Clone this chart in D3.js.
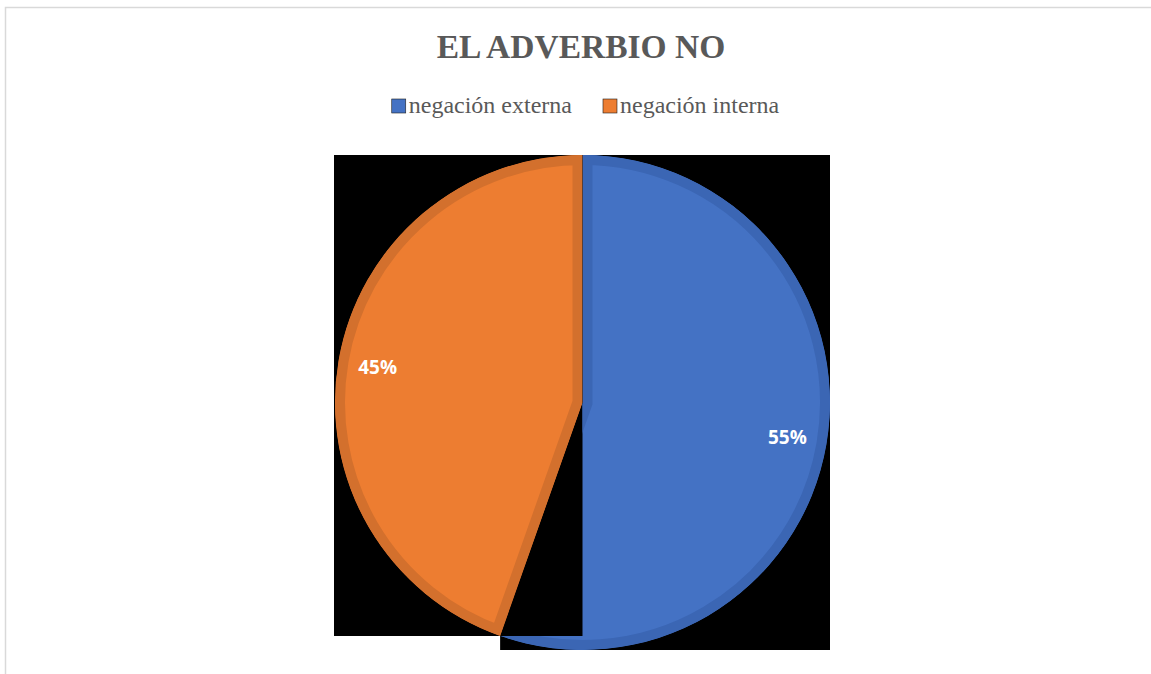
<!DOCTYPE html>
<html>
<head>
<meta charset="utf-8">
<script src="https://cdn.jsdelivr.net/npm/d3@7"></script>
<style>
  body { margin: 0; background: #fff; }
</style>
</head>
<body>
<div id="chart"></div>
<script>
// data
const categories = ['negación externa', 'negación interna'];
const shares = [55.4, 44.6];
const chartTitle = 'EL ADVERBIO NO';

class NegationPie {
  constructor(_config, _data) {
    this.config = {
      parentElement: _config.parentElement,
      containerWidth: _config.containerWidth || 1151,
      containerHeight: _config.containerHeight || 674,
      cx: _config.cx || 582.5,
      cy: _config.cy || 402.5,
      radius: _config.radius || 247.5
    };
    this.data = _data;
    this.initVis();
  }

  initVis() {
    let vis = this;
    const c = vis.config;

    vis.svg = d3.select(c.parentElement).append('svg')
      .attr('width', c.containerWidth)
      .attr('height', c.containerHeight);

    // thin frame (top + left only visible)
    vis.svg.append('path')
      .attr('d', `M5.5,${c.containerHeight} L5.5,7.5 L${c.containerWidth},7.5`)
      .attr('fill', 'none')
      .attr('stroke', '#d9d9d9')
      .attr('stroke-width', 1.5);

    vis.colorScale = d3.scaleOrdinal()
      .domain(categories)
      .range(['#4472c4', '#ed7d31']);
    vis.borderScale = d3.scaleOrdinal()
      .domain(categories)
      .range(['#3b66b4', '#d3702d']);

    vis.svg.append('text')
      .attr('x', 581)
      .attr('y', 58)
      .attr('text-anchor', 'middle')
      .style('font-family', '"Liberation Serif", "Times New Roman", serif')
      .style('font-weight', 'bold')
      .style('font-size', '33.5px')
      .style('fill', '#595959')
      .text(chartTitle);

    vis.defs = vis.svg.append('defs');
    vis.pieChart = vis.svg.append('g');
    vis.legend = vis.svg.append('g');
  }

  updateVis() {
    let vis = this;
    const pie = d3.pie().sort(null).value(d => d.value);
    vis.dataForChart = pie(vis.data);
    vis.renderVis();
  }

  renderVis() {
    let vis = this;
    const c = vis.config;
    const r = c.radius;

    const arcGenerator = d3.arc().innerRadius(0).outerRadius(r);
    const labelArc = d3.arc().innerRadius(r * 0.84).outerRadius(r * 0.84);

    // where the first slice ends on the rim
    const a = vis.dataForChart[0].endAngle;
    const tipX = c.cx + r * Math.sin(a);
    const tipY = c.cy - r * Math.cos(a);

    // black plot backdrop, notched at the bottom-left
    const x0 = c.cx - r - 1, x1 = c.cx + r, y0 = c.cy - r, y1 = c.cy + r;
    vis.pieChart.append('path')
      .attr('d', `M${x0},${y0} L${x1},${y0} L${x1},${y1} L${tipX},${y1} L${tipX},${tipY} L${x0},${tipY} Z`)
      .attr('fill', '#000');

    // visible region for the first slice
    const vClip = vis.defs.append('clipPath').attr('id', 'visible-0');
    vClip.append('rect')
      .attr('x', c.cx).attr('y', y0 - 2)
      .attr('width', r + 2).attr('height', 2 * r + 4);
    vClip.append('rect')
      .attr('x', tipX).attr('y', tipY)
      .attr('width', x1 - tipX + 2).attr('height', y1 - tipY + 2);

    // each slice clips its own (wide) border to the inside
    vis.dataForChart.forEach((d, i) => {
      vis.defs.append('clipPath').attr('id', 'slice-' + i)
        .append('path')
        .attr('d', arcGenerator(d));
    });

    const slices = vis.pieChart.selectAll('.slice')
      .data(vis.dataForChart)
      .join('g')
      .attr('class', 'slice')
      .attr('clip-path', (d, i) => i === 0 ? 'url(#visible-0)' : null);

    slices.append('path')
      .attr('transform', `translate(${c.cx},${c.cy})`)
      .attr('d', arcGenerator)
      .attr('fill', d => vis.colorScale(d.data.name))
      .attr('stroke', d => vis.borderScale(d.data.name))
      .attr('stroke-width', 20)
      .attr('clip-path', (d, i) => `url(#slice-${i})`);

    const total = d3.sum(vis.data, d => d.value);
    vis.pieChart.selectAll('.label')
      .data(vis.dataForChart)
      .join('text')
      .attr('class', 'label')
      .attr('transform', d => {
        const p = labelArc.centroid(d);
        return `translate(${c.cx + p[0]},${c.cy + p[1]})`;
      })
      .attr('dy', '0.35em')
      .attr('text-anchor', 'middle')
      .style('font-family', '"Open Sans", sans-serif')
      .style('font-weight', 'bold')
      .style('font-size', '19px')
      .style('fill', '#fff')
      .text(d => d3.format('.0%')(d.data.value / total));

    // legend, centred under the title
    const items = vis.legend.selectAll('.legend-item')
      .data(categories)
      .join('g')
      .attr('class', 'legend-item');
    items.append('rect')
      .attr('y', 99)
      .attr('width', 14)
      .attr('height', 14)
      .attr('fill', d => vis.colorScale(d))
      .attr('stroke', '#1f1f1f')
      .attr('stroke-width', 0.6);
    items.append('text')
      .attr('x', 17)
      .attr('y', 113)
      .style('font-family', '"Liberation Serif", "Times New Roman", serif')
      .style('font-size', '24px')
      .style('fill', '#595959')
      .text(d => d);

    let widths = [];
    items.each(function() { widths.push(17 + d3.select(this).select('text').node().getComputedTextLength()); });
    const gap = 31;
    const totalW = d3.sum(widths) + gap * (widths.length - 1);
    let xPos = 585.5 - totalW / 2;
    items.attr('transform', (d, i) => {
      const t = `translate(${xPos},0)`;
      xPos += widths[i] + gap;
      return t;
    });
  }
}

const pieData = categories.map((name, i) => ({ name: name, value: shares[i] }));
const chart = new NegationPie({ parentElement: '#chart' }, pieData);
chart.updateVis();
</script>
</body>
</html>
